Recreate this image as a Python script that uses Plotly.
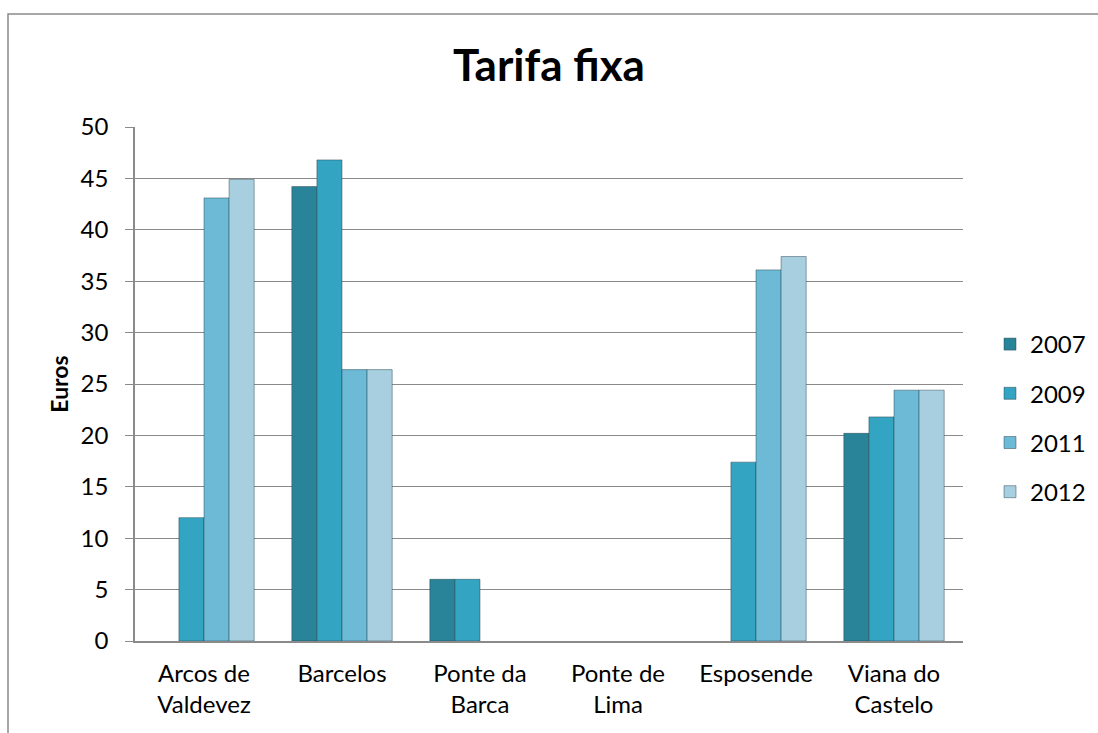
import plotly.graph_objects as go

# Fixed tariff per municipality (euros)
municipios = ["Arcos de<br>Valdevez", "Barcelos", "Ponte da<br>Barca", "Ponte de<br>Lima",
              "Esposende", "Viana do<br>Castelo"]
anos = ["2007", "2009", "2011", "2012"]
v2007 = [None, 44.2, 6.0, None, None, 20.2]
v2009 = [12.0, 46.8, 6.0, None, 17.4, 21.8]
v2011 = [43.1, 26.4, None, None, 36.1, 24.4]
v2012 = [44.9, 26.4, None, None, 37.4, 24.4]
y_ticks = [0, 5, 10, 15, 20, 25, 30, 35, 40, 45, 50]

series = [v2007, v2009, v2011, v2012]
cores = ["#2A8499", "#33A4C1", "#6CBAD5", "#A8CFDF"]

W, H = 1098, 733
L, R, T, B = 135, 135, 127, 92
pw, ph = W - L - R, H - T - B

fig = go.Figure()
for ano, vals, cor in zip(anos, series, cores):
    fig.add_trace(go.Bar(
        x=municipios, y=vals, name=ano, legendgroup=ano,
        marker=dict(color=cor, line=dict(color="rgba(30,60,70,0.45)", width=1)),
    ))

def px_x(p):
    return (p - L) / pw

def px_y(p):
    return (H - B - p) / ph

font = "Lato, 'Open Sans', sans-serif"
fig.update_layout(
    width=W, height=H,
    margin=dict(l=L, r=R, t=T, b=B, autoexpand=False),
    paper_bgcolor="white", plot_bgcolor="white",
    barmode="group", bargap=1.5 / 5.5, bargroupgap=0,
    font=dict(family=font, size=24, color="black"),
    title=dict(text="<b>Tarifa fixa</b>", x=0.5, xanchor="center",
               y=1 - 66 / H, yanchor="middle",
               font=dict(family=font, size=44, color="black")),
    xaxis=dict(showgrid=False, showline=True, linecolor="#8a8a8a", linewidth=1.5,
               ticks="", tickfont=dict(size=24), ticklabelstandoff=10,
               fixedrange=True),
    yaxis=dict(range=[0, 50], tickvals=y_ticks, showgrid=True, gridcolor="#8a8a8a",
               gridwidth=1.3, showline=True, linecolor="#8a8a8a", linewidth=1.5,
               ticks="outside", ticklen=8, tickcolor="#8a8a8a", tickwidth=1.3,
               tickfont=dict(size=24), ticklabelstandoff=12, zeroline=False,
               title=dict(text="<b>Euros</b>", font=dict(size=23), standoff=6)),
    legend=dict(x=px_x(990), xanchor="left", y=px_y(418), yanchor="middle",
                tracegroupgap=15, font=dict(size=24), traceorder="grouped",
                bgcolor="rgba(0,0,0,0)"),
    shapes=[dict(type="rect", xref="paper", yref="paper",
                 x0=px_x(8), x1=px_x(W + 10), y0=px_y(H + 10), y1=px_y(14),
                 line=dict(color="#8a8a8a", width=1.5), fillcolor="rgba(0,0,0,0)",
                 layer="below")],
)

fig.write_html("out.html")
